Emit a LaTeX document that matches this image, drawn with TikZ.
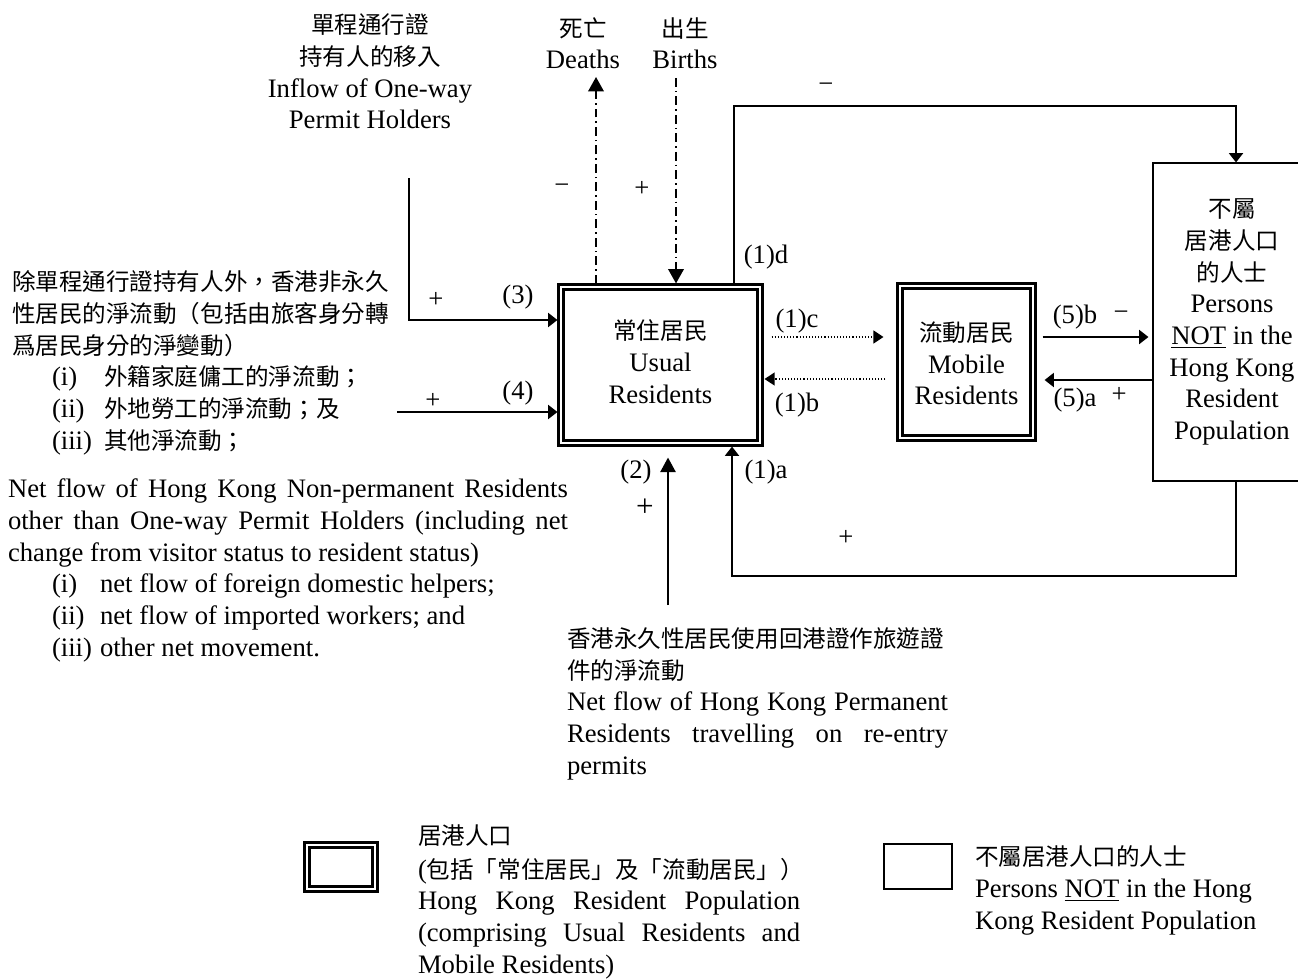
\documentclass[tikz,border=0pt]{standalone}
\usepackage{fontspec}
\setmainfont{Liberation Serif}
\newfontfamily\cjkfont{Noto Sans CJK TC}
\newcommand\zhs[1]{{\cjkfont\fontsize{10.6}{14.25}\selectfont #1}}
\newcommand\jline[2]{\makebox[#1][s]{#2}}
\usetikzlibrary{arrows.meta,calc}
\begin{document}
\begin{tikzpicture}[x=0.45pt,y=-0.45pt,
  every node/.style={inner sep=0pt,outer sep=0pt,font=\fontsize{12}{14.25}\selectfont},
  dbl/.style={draw,line width=1.1pt,double,double distance=1pt,outer sep=1.6pt},
  sgl/.style={draw,line width=0.5pt,outer sep=0.25pt},
  ln/.style={line width=0.9pt},
  arr/.style={ln,-{Triangle[length=4.2pt,width=6.3pt]}},
  bigarr/.style={ln,-{Triangle[length=6.5pt,width=6.8pt]}},
  dotarr/.style={line width=0.6pt,dash pattern=on 0.5pt off 0.9pt,-{Triangle[length=4.5pt,width=5.8pt]}},
  dasharr/.style={line width=0.9pt,dash pattern=on 4pt off 1.8pt on 0.7pt off 1.8pt,-{Triangle[length=6.5pt,width=7pt]}},
  tb/.style={anchor=base,align=center},
  tl/.style={anchor=base west,align=left},
]
\useasboundingbox (0,0) rectangle (1298,979);
\fill[white] (0,0) rectangle (1298,979);

% boxes
\node[dbl,minimum width=89.55pt,minimum height=70.2pt,align=center] (ur) at (660.5,365) {\zhs{常住居民}\\Usual\\Residents\\[-11pt]};
\node[dbl,minimum width=59.85pt,minimum height=68.4pt,align=center] (mr) at (966.5,362) {\\[-4pt]\zhs{流動居民}\\Mobile\\Residents};
\node[sgl,minimum width=71.1pt,minimum height=143.1pt,align=center] (np) at (1232,322) {\zhs{不屬}\\\zhs{居港人口}\\\zhs{的人士}\\Persons\\\underline{NOT} in the\\Hong Kong\\Resident\\Population};

% coordinates
\coordinate (dT) at (596,77);
\coordinate (bT) at (676,78);
\coordinate (dA) at (734,106);
\coordinate (dB) at (1236,106);
\coordinate (aA) at (1236,576);
\coordinate (aB) at (732,576);
\coordinate (c2) at (668,605);
\coordinate (c3) at (409,178);
\coordinate (c3b) at (409,320);
\coordinate (c4) at (397,412);
\coordinate (yc) at (0,337);
\coordinate (yb) at (0,379);
\coordinate (ya) at (0,380);

% connectors
\draw[dasharr] (dT |- ur.north) -- (dT);
\draw[dasharr] (bT) -- (bT |- ur.north);
\draw[arr] (dA |- ur.north) -- (dA) -- (dB) -- (dB |- np.north);
\draw[arr] (aA |- np.south) -- (aA) -- (aB) -- (aB |- ur.south);
\draw[bigarr] (c2) -- ($(c2 |- ur.south)+(0,11)$);
\draw[arr] (c3) -- (c3b) -- (c3b -| ur.west);
\draw[arr] (c4) -- (c4 -| ur.west);
\draw[dotarr] ($(ur.east |- yc)+(8,0)$) -- ($(mr.west |- yc)+(-13,0)$);
\draw[dotarr] ($(mr.west |- yb)+(-11,0)$) -- ($(ur.east |- yb)+(1,0)$);
\draw[arr] ($(mr.east |- yc)+(6,0)$) -- ($(np.west |- yc)+(-4,0)$);
\draw[arr] (np.west |- ya) -- ($(mr.east |- ya)+(8,0)$);

% labels
\node (l3) at (518,297) {(3)};
\node (p3) at (436,300) {+};
\node (l4) at (518,393) {(4)};
\node (p4) at (433,401) {+};
\node (l1d) at (766,257) {(1)d};
\node (mtop) at (826,88) {−};
\node (pbot) at (846,538) {+};
\node (md) at (562,189) {−};
\node (pb) at (642,189) {+};
\node (l2) at (636,472) {(2)};
\node[font=\fontsize{14}{16}\selectfont] (p2) at (645,508) {+};
\node (l1a) at (766,472) {(1)a};
\node (l1c) at (797,321) {(1)c};
\node (l1b) at (797,405) {(1)b};
\node (l5b) at (1075,317) {(5)b};
\node (m5b) at (1121,316) {−};
\node (l5a) at (1075,400) {(5)a};
\node (p5a) at (1119,395) {+};

% text blocks (base = baseline of last line)
\node[tb] (owp) at (370,129) {\zhs{單程通行證}\\\zhs{持有人的移入}\\Inflow of One-way\\Permit Holders};
\node[tb] (dth) at (583,69) {\zhs{死亡}\\Deaths};
\node[tb] (bth) at (685,69) {\zhs{出生}\\Births};
\node[tl] (nprc) at (12,449) {\zhs{除單程通行證持有人外，香港非永久}\\\zhs{性居民的淨流動（包括由旅客身分轉}\\\zhs{爲居民身分的淨變動）}\\\hspace*{18pt}\makebox[23.4pt][l]{(i)}\zhs{外籍家庭傭工的淨流動；}\\\hspace*{18pt}\makebox[23.4pt][l]{(ii)}\zhs{外地勞工的淨流動；及}\\\hspace*{18pt}\makebox[23.4pt][l]{(iii)}\zhs{其他淨流動；}};
\node[tl] (npre) at (8,656) {\jline{252pt}{Net flow of Hong Kong Non-permanent Residents}\\\jline{252pt}{other than One-way Permit Holders (including net}\\change from visitor status to resident status)\\\hspace*{19.8pt}\makebox[21.6pt][l]{(i)}net flow of foreign domestic helpers;\\\hspace*{19.8pt}\makebox[21.6pt][l]{(ii)}net flow of imported workers; and\\\hspace*{19.8pt}\makebox[21.6pt][l]{(iii)}other net movement.};
\node[tl] (pr) at (567,774) {\zhs{香港永久性居民使用回港證作旅遊證}\\\zhs{件的淨流動}\\\jline{171.5pt}{Net flow of Hong Kong Permanent}\\\jline{171.5pt}{Residents travelling on re-entry}\\permits};

% legend
\node[dbl,minimum width=30.6pt,minimum height=19.8pt] (lgb1) at (341,867) {};
\node[tl] (lgt1) at (418,973) {\zhs{居港人口}\\[0.8pt](\zhs{包括「常住居民」及「流動居民」）}\\\jline{172pt}{Hong Kong Resident Population}\\\jline{172pt}{(comprising Usual Residents and}\\Mobile Residents)};
\node[sgl,minimum width=30.6pt,minimum height=20.25pt] (lgb2) at (918,866.5) {};
\node[tl] (lgt2) at (975,929) {\zhs{不屬居港人口的人士}\\Persons \underline{NOT} in the Hong\\Kong Resident Population};
\end{tikzpicture}
\end{document}
